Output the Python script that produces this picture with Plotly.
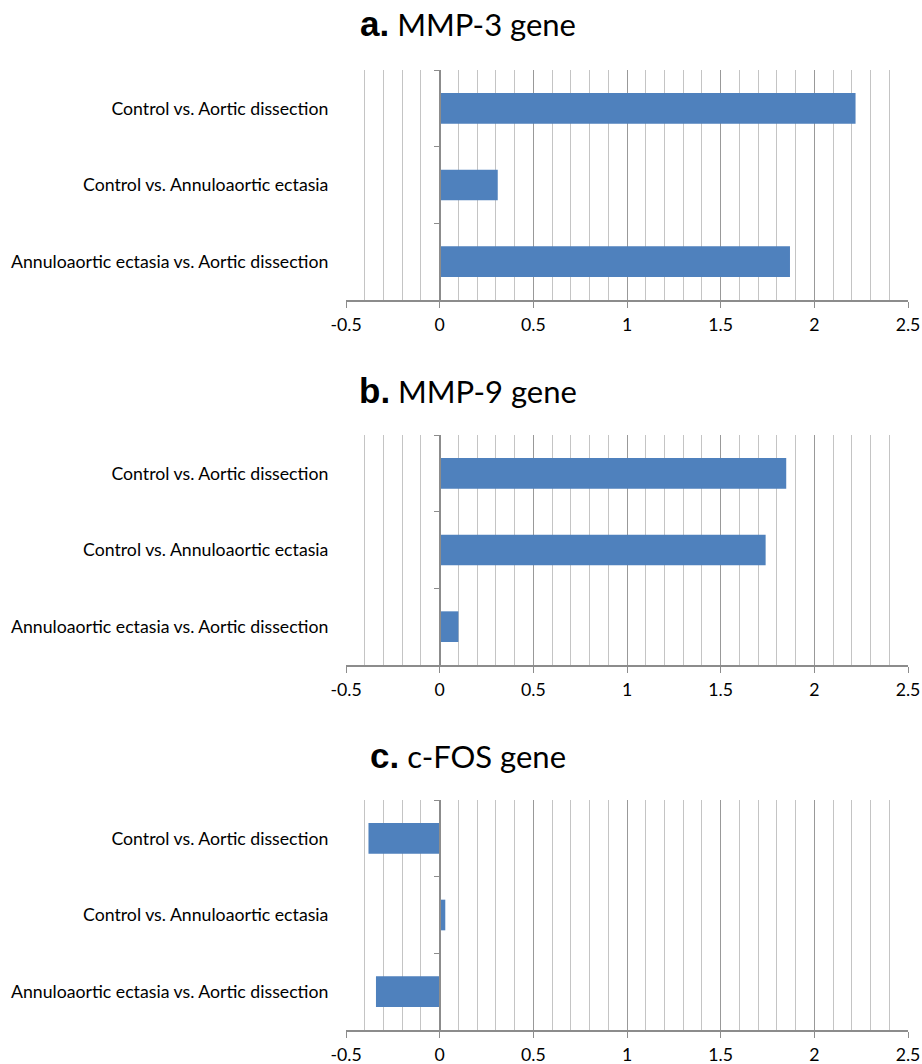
import plotly.graph_objects as go

categories = ["Control vs. Aortic dissection",
              "Control vs. Annuloaortic ectasia",
              "Annuloaortic ectasia vs. Aortic dissection"]
mmp3 = [2.22, 0.31, 1.87]
mmp9 = [1.85, 1.74, 0.10]
cfos = [-0.38, 0.03, -0.34]
panel_letters = ["a.", "b.", "c."]
panel_names = ["MMP-3 gene", "MMP-9 gene", "c-FOS gene"]
x_ticks = [-0.5, 0, 0.5, 1, 1.5, 2, 2.5]

W, H = 922, 1064
BAR = "#4f81bd"
GRID_MINOR = "#c4c4c4"
GRID_MAJOR = "#999999"
AXIS = "#8c8c8c"
LABEL_FONT = dict(family="Lato, Open Sans, sans-serif", size=17.7, color="#000000")

x0, x1 = 346 / W, 908 / W
panels_px = [(70, 300), (435, 665), (800, 1030)]
title_y_px = [24, 390, 755]

fig = go.Figure()
series = [mmp3, mmp9, cfos]
xmin, xmax = -0.5, 2.5
zero_pos = x0 + (x1 - x0) * (0 - xmin) / (xmax - xmin)

for i, vals in enumerate(series):
    n = "" if i == 0 else str(i + 1)
    top, bot = panels_px[i]
    fig.add_trace(go.Bar(
        x=vals, y=categories, orientation="h",
        marker=dict(color=BAR, line=dict(width=0)),
        xaxis="x" + n, yaxis="y" + n, showlegend=False, hoverinfo="x+y"))
    fig.layout["xaxis" + n] = dict(
        domain=[x0, x1], anchor="y" + n, range=[xmin, xmax],
        tickvals=x_ticks, ticktext=[("%g" % v) for v in x_ticks],
        showgrid=True, gridcolor=GRID_MAJOR, gridwidth=1,
        minor=dict(dtick=0.1, tick0=0, showgrid=True, gridcolor=GRID_MINOR, gridwidth=1),
        zeroline=False,
        showline=True, linecolor=AXIS, linewidth=1.5,
        ticks="outside", ticklen=6, tickcolor=AXIS, tickwidth=1,
        tickfont=LABEL_FONT, ticklabelstandoff=2, automargin=False, fixedrange=True)
    fig.layout["yaxis" + n] = dict(
        domain=[1 - bot / H, 1 - top / H], anchor="free", position=zero_pos,
        categoryorder="array", categoryarray=categories,
        autorange="reversed", type="category",
        showgrid=False, zeroline=False,
        showline=True, linecolor=AXIS, linewidth=1.5,
        ticks="outside", tickson="boundaries", ticklen=5, tickcolor=AXIS,
        tickfont=LABEL_FONT, ticklabelstandoff=107, automargin=False, fixedrange=True)
    fig.add_annotation(
        xref="paper", yref="paper", x=468 / W, y=1 - title_y_px[i] / H,
        xanchor="center", yanchor="middle", showarrow=False,
        text=("<span style=\"font-family:Liberation Sans, Arial; font-weight:bold; font-size:35px\">"
              + panel_letters[i] + "</span> " + panel_names[i]),
        font=dict(family="Lato, Open Sans, sans-serif", size=31, color="#000000"))

fig.update_layout(
    width=W, height=H, margin=dict(l=0, r=0, t=0, b=0, autoexpand=False),
    paper_bgcolor="white", plot_bgcolor="white", bargap=0.6)

fig.write_html("out.html", config={"displayModeBar": False},
               post_script="document.body.style.margin='0';document.body.style.overflow='hidden';")
